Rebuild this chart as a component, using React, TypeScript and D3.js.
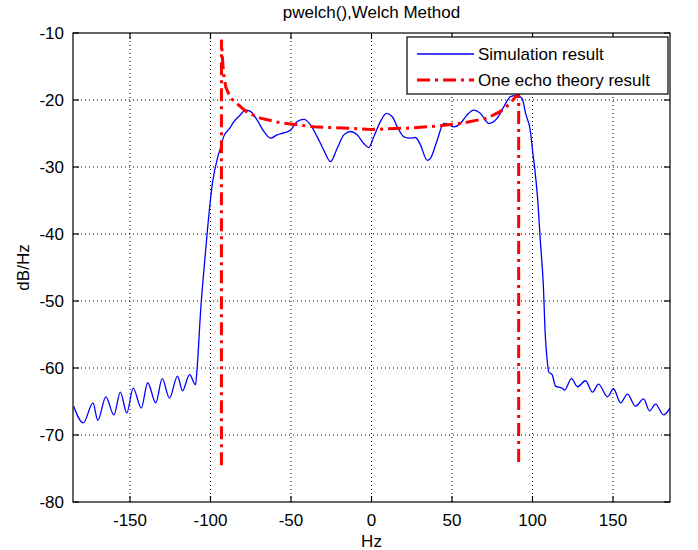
import React from "react";
import * as d3 from "d3";

// ---- data ----
const xTicks = [-150, -100, -50, 0, 50, 100, 150];
const yTicks = [-80, -70, -60, -50, -40, -30, -20, -10];
const xDomain = [-185.4, 185.4];
const yDomain = [-80, -10];

const simFreq = [
  -185, -179, -173, -170, -165, -160, -156, -152, -148, -143, -139, -134, -130, -125.5, -120.5, -117.4, -113, -109.3,
  -108.3, -106, -104.5, -101.9, -98.8, -95.5, -93.8, -91.9, -88, -85.7, -81.4, -78.3, -75.2, -71, -66.9, -62.7,
  -58.6, -54.5, -50.3, -46.1, -42, -37.9, -33.7, -29.6, -25.5, -21.3, -17.2, -13, -8.9, -4.8, -1.7, 1.4, 5.6, 9.3,
  12.9, 16, 20.1, 24.2, 27.3, 30.4, 34.6, 36.6, 40.8, 44.9, 48, 51.1, 55.3, 59.4, 63.5, 67.7, 72.9, 78.1, 82.2,
  86.3, 90.5, 93.6, 95.7, 98.8, 100, 101.2, 103.1, 105, 106.8, 107.8, 109.1, 110.1, 112.2, 114.3, 118.4, 119.9,
  124.2, 128, 132.9, 137.3, 141, 146.6, 150.3, 154.7, 159, 164, 169, 172.7, 176.4, 181.4, 185.4,
];
const simDb = [
  -65.7, -68.2, -65.2, -67.8, -64.3, -67.0, -63.6, -66.7, -63.0, -66.0, -62.2, -65.2, -61.6, -64.5, -61.2, -63.4, -61.0, -62.5,
  -60.0, -51.0, -46.5, -39.4, -32.4, -28.5, -27.2, -25.5, -24.2, -23.3, -22.2, -21.5, -21.7, -23.0, -24.7, -25.7,
  -25.2, -24.9, -24.5, -23.2, -22.9, -23.7, -25.5, -27.5, -29.2, -27.2, -25.2, -24.7, -25.2, -26.5, -27.1, -25.5, -23.2, -22.0,
  -22.5, -24.0, -25.5, -25.7, -25.6, -26.7, -29.0, -28.7, -26.0, -23.5, -23.7, -24.0, -23.5, -22.2, -21.5, -22.0, -23.5, -22.7, -21.0,
  -19.5, -19.3, -19.8, -22.0, -24.8, -27.5, -29.8, -34.5, -41.5, -48.0, -54.5, -58.8, -60.6, -61.0, -62.7, -63.0, -63.3,
  -61.6, -62.8, -61.9, -63.6, -62.4, -64.3, -63.1, -65.2, -63.9, -65.7, -64.6, -66.4, -65.4, -67.0, -66.0,
];

const theoryFreq = [
  -93.2, -93.2, -92.5, -91.9, -90.6, -87.6, -83.2, -77, -69, -56.5, -46, -36, -25.5, -7, 0, 22, 40.8, 57.4, 71.9, 80.1,
  86.3, 89.5, 91.4, 91.4,
];
const theoryDb = [
  -74.5, -11.0, -14.0, -16.0, -18.0, -19.7, -20.6, -21.9, -22.7, -23.4, -23.7, -24.0, -24.1, -24.3, -24.4, -24.2, -23.9,
  -23.4, -22.7, -21.7, -20.5, -19.5, -19.2, -74.3,
];

const legendLabels = ["Simulation result", "One echo theory result"];
const titleText = "pwelch(),Welch Method";
const xLabel = "Hz";
const yLabel = "dB/Hz";

export default function App() {
  const W = 698, H = 550;
  const L = 73, R = 670, T = 33, B = 502;
  const x = d3.scaleLinear().domain(xDomain).range([L, R]);
  const y = d3.scaleLinear().domain(yDomain).range([B, T]);

  const simData = simFreq.map((f, i) => [f, simDb[i]] as [number, number]);
  const thData = theoryFreq.map((f, i) => [f, theoryDb[i]] as [number, number]);

  const simLine = d3.line<[number, number]>().x(d => x(d[0])).y(d => y(d[1])).curve(d3.curveMonotoneX)(simData) || "";
  const thLine = d3.line<[number, number]>().x(d => x(d[0])).y(d => y(d[1])).curve(d3.curveLinear)(thData) || "";

  const font = "'Liberation Sans', Arial, Helvetica, sans-serif";
  const fs = 17;
  const tickLen = 6;
  const redDash = "13,5,3,5";

  return (
    <svg width={W} height={H} style={{ position: "absolute", left: 0, top: 0, background: "#fff" }}
      fontFamily={font}>
      <rect x={0} y={0} width={W} height={H} fill="#fff" />
      <defs>
        <clipPath id="plotclip"><rect x={L} y={T} width={R - L} height={B - T} /></clipPath>
      </defs>
      {/* grid */}
      {xTicks.map(t => (
        <line key={"gx" + t} x1={x(t)} x2={x(t)} y1={T} y2={B} stroke="#000" strokeWidth={1} strokeDasharray="1,3" />
      ))}
      {yTicks.filter(t => t > yDomain[0] && t < yDomain[1]).map(t => (
        <line key={"gy" + t} x1={L} x2={R} y1={y(t)} y2={y(t)} stroke="#000" strokeWidth={1} strokeDasharray="1,3" />
      ))}
      {/* series */}
      <g clipPath="url(#plotclip)">
        <path d={simLine} fill="none" stroke="#0000ff" strokeWidth={1.3} />
        <path d={thLine} fill="none" stroke="#ff0000" strokeWidth={3} strokeDasharray={redDash} />
      </g>
      {/* axes box */}
      <rect x={L} y={T} width={R - L} height={B - T} fill="none" stroke="#000" strokeWidth={1.2} />
      {xTicks.map(t => (
        <g key={"tx" + t}>
          <line x1={x(t)} x2={x(t)} y1={B} y2={B - tickLen} stroke="#000" strokeWidth={1.2} />
          <line x1={x(t)} x2={x(t)} y1={T} y2={T + tickLen} stroke="#000" strokeWidth={1.2} />
          <text x={x(t)} y={526} textAnchor="middle" fontSize={fs} fill="#000">{t}</text>
        </g>
      ))}
      {yTicks.map(t => (
        <g key={"ty" + t}>
          <line x1={L} x2={L + tickLen} y1={y(t)} y2={y(t)} stroke="#000" strokeWidth={1.2} />
          <line x1={R} x2={R - tickLen} y1={y(t)} y2={y(t)} stroke="#000" strokeWidth={1.2} />
          <text x={64} y={y(t) + 6} textAnchor="end" fontSize={fs} fill="#000">{t}</text>
        </g>
      ))}
      {/* labels */}
      <text x={(L + R) / 2} y={18} textAnchor="middle" fontSize={fs} fill="#000">{titleText}</text>
      <text x={(L + R) / 2} y={547} textAnchor="middle" fontSize={fs} fill="#000">{xLabel}</text>
      <text transform={`translate(29, ${(T + B) / 2}) rotate(-90)`} textAnchor="middle" fontSize={fs} fill="#000">{yLabel}</text>
      {/* legend */}
      <g>
        <rect x={407} y={37} width={261} height={57} fill="#fff" stroke="#000" strokeWidth={1.2} />
        <line x1={417} x2={474} y1={54} y2={54} stroke="#0000ff" strokeWidth={1.3} />
        <text x={478} y={60} fontSize={fs} fill="#000">{legendLabels[0]}</text>
        <line x1={417} x2={474} y1={80} y2={80} stroke="#ff0000" strokeWidth={3} strokeDasharray={redDash} />
        <text x={478} y={86} fontSize={fs} fill="#000">{legendLabels[1]}</text>
      </g>
    </svg>
  );
}
